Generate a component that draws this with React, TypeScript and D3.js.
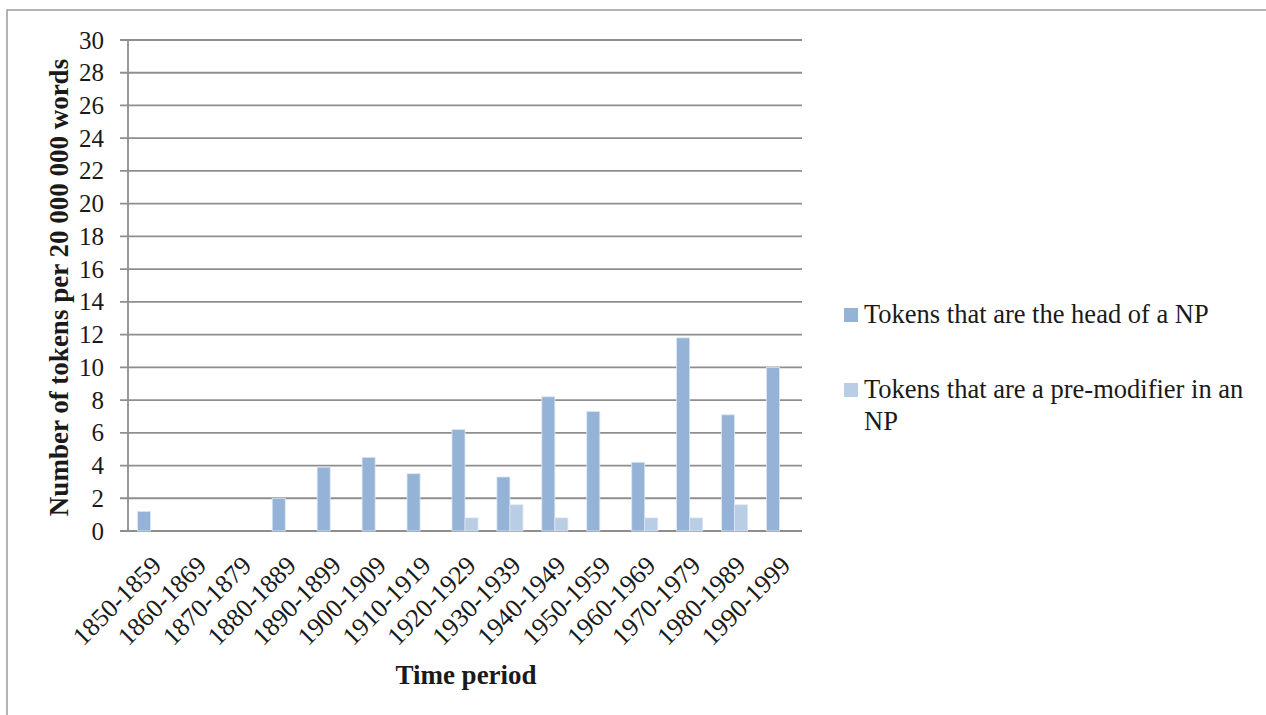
import React from "react";
import * as d3 from "d3";

// Periods on the category axis
const periods = [
  "1850-1859", "1860-1869", "1870-1879", "1880-1889", "1890-1899",
  "1900-1909", "1910-1919", "1920-1929", "1930-1939", "1940-1949",
  "1950-1959", "1960-1969", "1970-1979", "1980-1989", "1990-1999",
];

// Tokens that are the head of a NP
const headValues = [1.2, 0, 0, 2, 3.9, 4.5, 3.5, 6.2, 3.3, 8.2, 7.3, 4.2, 11.8, 7.1, 10];

// Tokens that are a pre-modifier in an NP
const preModValues = [0, 0, 0, 0, 0, 0, 0, 0.8, 1.6, 0.8, 0, 0.8, 0.8, 1.6, 0];

const yTicks = d3.range(0, 31, 2);

const seriesNames = ["Tokens that are the head of a NP", "Tokens that are a pre-modifier in an NP"];
const seriesColors = ["#95B3D7", "#B9CDE5"];

const W = 1266;
const H = 715;
const plot = { left: 128, right: 802, top: 40, bottom: 531 };
const FONT = "'Liberation Serif', 'Times New Roman', serif";

export default function App() {
  const x = d3.scaleBand<string>().domain(periods).range([plot.left, plot.right]);
  const y = d3.scaleLinear().domain([0, 30]).range([plot.bottom, plot.top]);
  const barW = x.bandwidth() * 0.29;
  const series = [headValues, preModValues];

  return (
    <svg
      width={W}
      height={H}
      style={{ position: "absolute", left: 0, top: 0, background: "#fff" }}
      fontFamily={FONT}
    >
      {/* outer chart frame */}
      <rect x={7} y={10} width={W + 20} height={H + 20} fill="none" stroke="#9a9a9a" strokeWidth={1.5} />

      {/* horizontal gridlines with tick stubs */}
      {yTicks.map((t) => (
        <g key={t}>
          <line x1={plot.left - 8} x2={plot.right} y1={y(t)} y2={y(t)} stroke="#8e8e8e" strokeWidth={1.8} />
          <text x={104} y={y(t)} dy="0.34em" textAnchor="end" fontSize={25} fill="#1a1a1a">
            {t}
          </text>
        </g>
      ))}
      {/* value axis line */}
      <line x1={plot.left} x2={plot.left} y1={plot.top} y2={plot.bottom} stroke="#8e8e8e" strokeWidth={1.8} />

      {/* bars */}
      {series.map((vals, si) =>
        vals.map((v, i) => {
          if (v <= 0) return null;
          const cx = (x(periods[i]) as number) + x.bandwidth() / 2;
          const bx = si === 0 ? cx - barW : cx;
          return (
            <rect
              key={`${si}-${i}`}
              x={bx}
              y={y(v)}
              width={barW}
              height={y(0) - y(v)}
              fill={seriesColors[si]}
              stroke="#dce6f2"
              strokeWidth={0.8}
            />
          );
        })
      )}

      {/* category labels */}
      {periods.map((p) => {
        const cx = (x(p) as number) + x.bandwidth() / 2;
        return (
          <text
            key={p}
            transform={`translate(${cx + 12.5},${plot.bottom + 36}) rotate(-45)`}
            textAnchor="end"
            fontSize={26}
            fill="#1a1a1a"
          >
            {p}
          </text>
        );
      })}

      {/* axis titles */}
      <text
        transform={`translate(68,${(plot.top + plot.bottom) / 2 + 2}) rotate(-90)`}
        textAnchor="middle"
        fontSize={27}
        fontWeight="bold"
        fill="#1a1a1a"
      >
        Number of tokens per 20 000 000 words
      </text>
      <text x={466} y={684} textAnchor="middle" fontSize={27} fontWeight="bold" fill="#1a1a1a">
        Time period
      </text>

      {/* legend */}
      <g>
        <rect x={844} y={308} width={14} height={14} fill={seriesColors[0]} />
        <text x={864} y={323} fontSize={26.5} fill="#1a1a1a">
          {seriesNames[0]}
        </text>
        <rect x={844} y={383} width={14} height={14} fill={seriesColors[1]} />
        <text x={864} y={398} fontSize={26.5} fill="#1a1a1a">
          <tspan x={864}>Tokens that are a pre-modifier in an</tspan>
          <tspan x={864} dy={32}>NP</tspan>
        </text>
      </g>
    </svg>
  );
}
